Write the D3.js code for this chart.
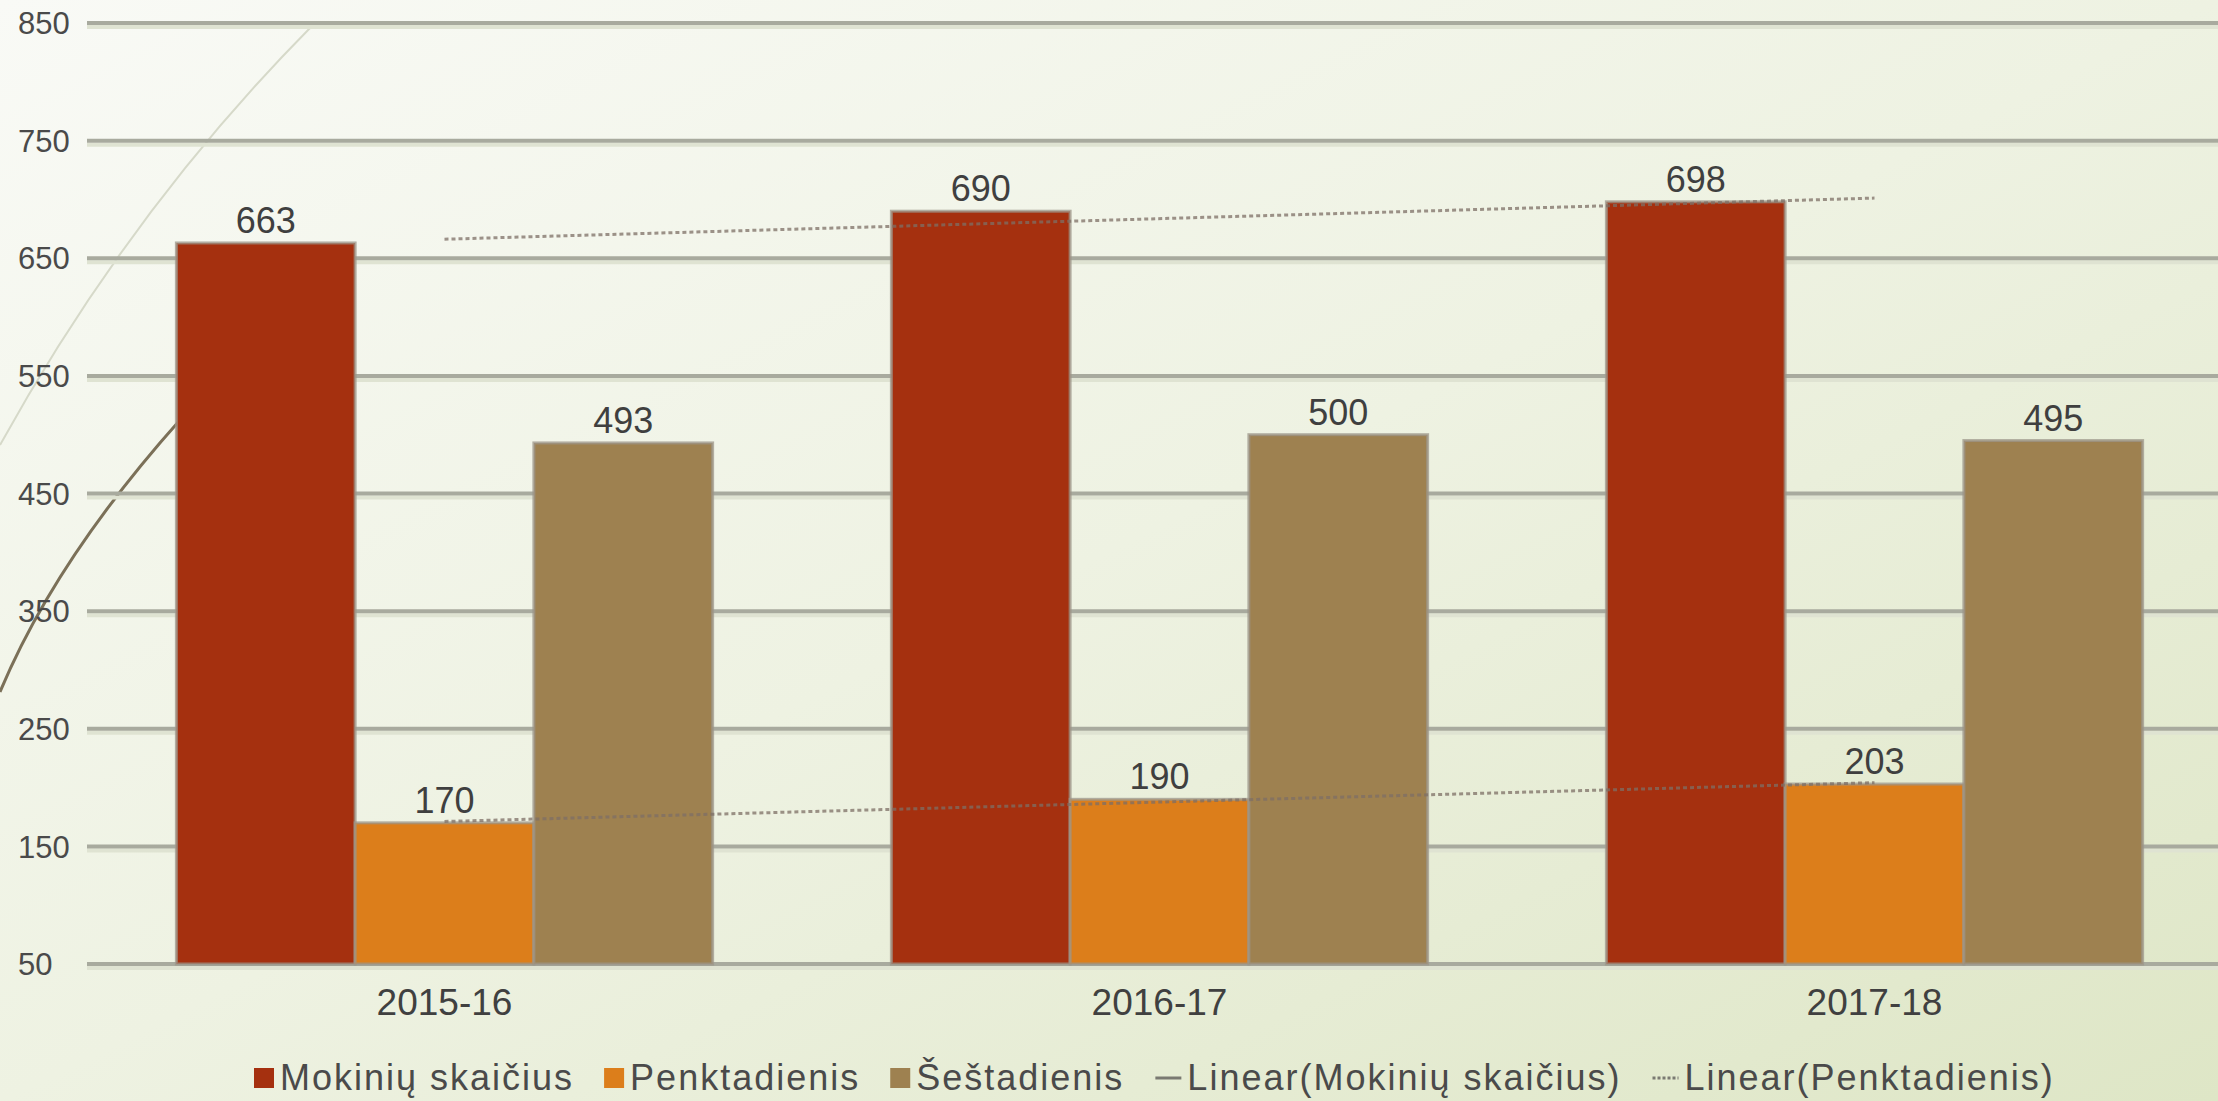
<!DOCTYPE html>
<html>
<head>
<meta charset="utf-8">
<script src="https://cdn.jsdelivr.net/npm/d3@7/dist/d3.min.js"></script>
<style>
body{margin:0;overflow:hidden;}
svg{display:block;font-family:"Liberation Sans",Arial,sans-serif;}
</style>
</head>
<body>
<svg width="2218" height="1101"></svg>
<script>
var years = ["2015-16", "2016-17", "2017-18"];
var seriesNames = ["Mokinių skaičius", "Penktadienis", "Šeštadienis"];
var mokiniai = [663, 690, 698];
var penktadienis = [170, 190, 203];
var sestadienis = [493, 500, 495];
var yTicks = [50, 150, 250, 350, 450, 550, 650, 750, 850];
var trendNames = ["Linear(Mokinių skaičius)", "Linear(Penktadienis)"];
var colors = ["#a5300f", "#dc7e1b", "#9e8150"];

var svg = d3.select("svg"),
    width = +svg.attr("width"),
    height = +svg.attr("height");

// background gradient
var defs = svg.append("defs");
var grad = defs.append("linearGradient")
    .attr("id", "bg")
    .attr("x1", 0).attr("y1", 0).attr("x2", 1).attr("y2", 1);
grad.append("stop").attr("offset", "0%").attr("stop-color", "#f9faf6");
grad.append("stop").attr("offset", "50%").attr("stop-color", "#eef2e2");
grad.append("stop").attr("offset", "100%").attr("stop-color", "#dee6c6");
svg.append("rect").attr("width", width).attr("height", height).attr("fill", "url(#bg)");

// theme decoration arcs
svg.append("path")
    .attr("d", "M311,27 Q130,210 0,445")
    .attr("fill", "none").attr("stroke", "#d6d9c9").attr("stroke-width", 2);
svg.append("path")
    .attr("d", "M180,420 Q55,560 0,692")
    .attr("fill", "none").attr("stroke", "#7b7058").attr("stroke-width", 3);

var xScale = d3.scaleBand().domain(years).range([87, 2232]).paddingInner(0.25).paddingOuter(0.125),
    xSub = d3.scaleBand().domain(seriesNames).range([0, xScale.bandwidth()]),
    yScale = d3.scaleLinear().domain([50, 850]).range([964, 23]);

// gridlines
var grid = svg.append("g");
grid.selectAll(".shadow")
    .data(yTicks)
    .enter().append("line")
    .attr("x1", 87).attr("x2", width)
    .attr("y1", function(d) { return yScale(d) + 4; })
    .attr("y2", function(d) { return yScale(d) + 4; })
    .attr("stroke", "#dfe3d2").attr("stroke-width", 4);
grid.selectAll(".line")
    .data(yTicks)
    .enter().append("line")
    .attr("x1", 87).attr("x2", width)
    .attr("y1", function(d) { return yScale(d); })
    .attr("y2", function(d) { return yScale(d); })
    .attr("stroke", "#a8aa9e").attr("stroke-width", 4);

// y labels
svg.append("g").selectAll("text")
    .data(yTicks)
    .enter().append("text")
    .attr("x", 18)
    .attr("y", function(d) { return yScale(d); })
    .attr("dy", "0.36em")
    .attr("font-size", "31px")
    .attr("fill", "#4a4a4a")
    .text(function(d) { return d; });

// bars
var data = years.map(function(y, i) {
    return { year: y, values: [mokiniai[i], penktadienis[i], sestadienis[i]] };
});

var groups = svg.append("g").selectAll("g")
    .data(data)
    .enter().append("g")
    .attr("transform", function(d) { return "translate(" + xScale(d.year) + ",0)"; });

groups.selectAll("rect")
    .data(function(d) { return d.values.map(function(v, j) { return { name: seriesNames[j], value: v, idx: j }; }); })
    .enter().append("rect")
    .attr("x", function(d) { return xSub(d.name); })
    .attr("y", function(d) { return yScale(d.value); })
    .attr("width", xSub.bandwidth())
    .attr("height", function(d) { return yScale(50) - yScale(d.value); })
    .attr("fill", function(d) { return colors[d.idx]; })
    .attr("stroke", "#9c958a")
    .attr("stroke-opacity", 0.75)
    .attr("stroke-width", 3);

groups.selectAll(".lbl")
    .data(function(d) { return d.values.map(function(v, j) { return { name: seriesNames[j], value: v }; }); })
    .enter().append("text")
    .attr("class", "lbl")
    .attr("x", function(d) { return xSub(d.name) + xSub.bandwidth() / 2; })
    .attr("y", function(d) { return yScale(d.value) - 10; })
    .attr("text-anchor", "middle")
    .attr("font-size", "36px")
    .attr("fill", "#3f3f3f")
    .text(function(d) { return d.value; });

// linear trendlines (least squares over category index)
function trend(vals) {
    var n = vals.length, mx = (n + 1) / 2, my = d3.mean(vals), sxy = 0, sxx = 0;
    vals.forEach(function(v, i) { sxy += (i + 1 - mx) * (v - my); sxx += (i + 1 - mx) * (i + 1 - mx); });
    var b = sxy / sxx;
    return [1, n].map(function(k) { return { year: years[k - 1], value: my + b * (k - mx) }; });
}

var line = d3.line()
    .x(function(d) { return xScale(d.year) + xScale.bandwidth() / 2; })
    .y(function(d) { return yScale(d.value); });

[mokiniai, penktadienis].forEach(function(vals) {
    svg.append("path")
        .datum(trend(vals))
        .attr("d", line)
        .attr("fill", "none")
        .attr("stroke", "#7d6f66")
        .attr("stroke-opacity", 0.75)
        .attr("stroke-width", 3)
        .attr("stroke-dasharray", "4 3");
});

// x labels
svg.append("g").selectAll("text")
    .data(years)
    .enter().append("text")
    .attr("x", function(d) { return xScale(d) + xScale.bandwidth() / 2; })
    .attr("y", 1015)
    .attr("text-anchor", "middle")
    .attr("font-size", "37px")
    .attr("fill", "#404040")
    .text(function(d) { return d; });

// legend
var legend = svg.append("g");
var lx = 254, ly = 1090;
var items = seriesNames.map(function(n, i) { return { name: n, type: "box", color: colors[i] }; })
    .concat([{ name: trendNames[0], type: "solid" }, { name: trendNames[1], type: "dot" }]);

items.forEach(function(it) {
    if (it.type == "box") {
        legend.append("rect")
            .attr("x", lx).attr("y", ly - 22).attr("width", 20).attr("height", 20)
            .attr("fill", it.color);
    } else {
        legend.append("line")
            .attr("x1", lx + 1).attr("x2", lx + 27)
            .attr("y1", ly - 12).attr("y2", ly - 12)
            .attr("stroke", "#7a7a72").attr("stroke-width", 3)
            .attr("stroke-dasharray", it.type == "dot" ? "3 2" : null);
    }
    var t = legend.append("text")
        .attr("x", lx + (it.type == "box" ? 26 : 33))
        .attr("y", ly)
        .attr("font-size", "36px")
        .attr("letter-spacing", "2px")
        .attr("fill", "#4a4a4a")
        .text(it.name);
    lx = lx + (it.type == "box" ? 26 : 33) + t.node().getComputedTextLength() + 30;
});
</script>
</body>
</html>
